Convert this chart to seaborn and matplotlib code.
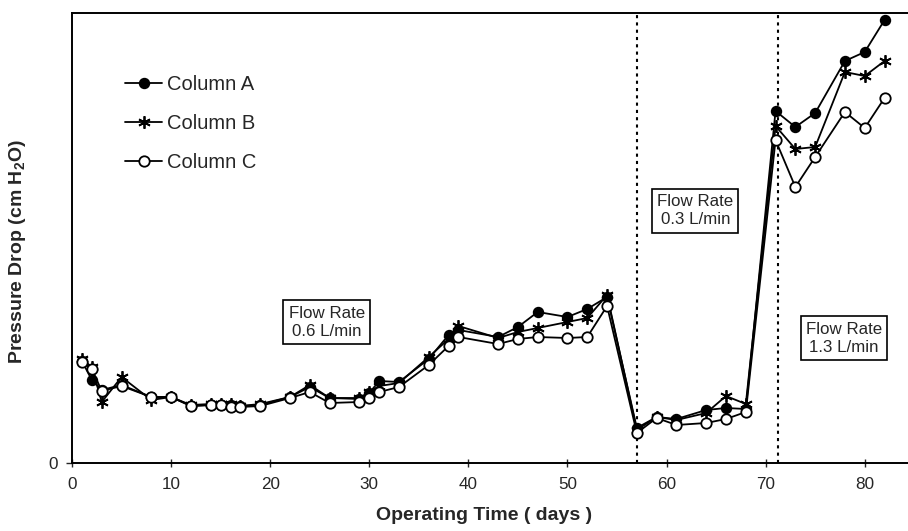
import matplotlib
matplotlib.use("Agg")
import matplotlib.pyplot as plt
import seaborn as sns

# operating days sampled (shared by all three columns)
days = [1, 2, 3, 5, 8, 10, 12, 14, 15, 16, 17, 19, 22, 24, 26, 29, 30, 31, 33, 36,
        38, 39, 43, 45, 47, 50, 52, 54, 57, 59, 61, 64, 66, 68, 71, 73, 75, 78, 80, 82]

# pressure drop, cm H2O
col_a = [10.2, 8.3, 7.3, 7.8, 6.6, 6.6, 5.7, 5.8, 5.8, 5.8, 5.7, 5.8, 6.6, 7.6, 6.5, 6.4, 7.0, 8.2, 8.1, 10.4,
         12.8, 13.3, 12.6, 13.6, 15.1, 14.6, 15.4, 16.6, 3.5, 4.6, 4.4, 5.3, 5.5, 5.4, 35.2, 33.6, 35.0, 40.2, 41.1, 44.3]
col_b = [10.4, 9.6, 6.1, 8.6, 6.3, 6.6, 5.8, 5.9, 5.9, 5.9, 5.7, 5.9, 6.6, 7.8, 6.5, 6.5, 7.1, 7.7, 8.0, 10.6,
         12.4, 13.7, 12.5, 13.1, 13.5, 14.1, 14.5, 16.8, 3.3, 4.6, 4.3, 5.0, 6.7, 5.9, 33.7, 31.4, 31.6, 39.1, 38.7, 40.2]
col_c = [10.1, 9.4, 7.2, 7.7, 6.6, 6.6, 5.7, 5.8, 5.8, 5.6, 5.6, 5.7, 6.5, 7.1, 6.0, 6.1, 6.5, 7.1, 7.6, 9.8,
         11.7, 12.6, 11.9, 12.4, 12.6, 12.5, 12.6, 15.7, 3.0, 4.5, 3.8, 4.0, 4.4, 5.1, 32.3, 27.6, 30.6, 35.1, 33.5, 36.5]

# flow rate changes and the boxed notes
change_days = [57, 71.2]
notes = ["Flow Rate\n0.6 L/min", "Flow Rate\n0.3 L/min", "Flow Rate\n1.3 L/min"]
note_pos = [(25.7, 14.1), (62.9, 25.2), (77.9, 12.5)]

sns.set_style("ticks")
plt.rcParams["font.family"] = ["Liberation Sans", "DejaVu Sans"]
plt.rcParams["mathtext.default"] = "regular"

fig = plt.figure(figsize=(9.08, 5.31), dpi=100)
# the frame runs past the right edge of the picture
ax = fig.add_axes([72 / 908, 68 / 531, 872 / 908, 450 / 531])

sns.lineplot(x=days, y=col_a, ax=ax, color="black", lw=1.3, marker="o", markersize=7.2,
             markerfacecolor="black", markeredgecolor="black", markeredgewidth=1.0,
             estimator=None, sort=False, label="Column A", zorder=3)
sns.lineplot(x=days, y=col_b, ax=ax, color="black", lw=1.3, marker=(6, 2, 0), markersize=9,
             markerfacecolor="black", markeredgecolor="black", markeredgewidth=1.3,
             estimator=None, sort=False, label="Column B", zorder=4)
sns.lineplot(x=days, y=col_c, ax=ax, color="black", lw=1.3, marker="o", markersize=7.5,
             markerfacecolor="white", markeredgecolor="black", markeredgewidth=1.3,
             estimator=None, sort=False, label="Column C", zorder=5)

for d in change_days:
    ax.axvline(d, color="black", lw=1.5, ls=(0, (1.5, 2)), zorder=2)

for txt, (x, y) in zip(notes, note_pos):
    ax.text(x, y, txt, ha="center", va="center", fontsize=12.2, linespacing=1.25,
            bbox=dict(boxstyle="square,pad=0.3", fc="white", ec="black", lw=1.2), zorder=6)

ax.set_xlim(0, 88)
ax.set_ylim(0, 45)
ax.set_xticks(range(0, 90, 10))
ax.set_yticks([0])
ax.tick_params(axis="x", direction="inout", length=6, width=1, labelsize=12.3, pad=7)
ax.tick_params(axis="y", direction="out", length=4, width=1, labelsize=12.3, pad=6)

for side in ["left", "top", "bottom"]:
    ax.spines[side].set_visible(True)
    ax.spines[side].set_linewidth(1.4)
    ax.spines[side].set_color("black")
ax.spines["right"].set_visible(False)

ax.set_xlabel("Operating Time ( days )", fontsize=14, fontweight="bold")
ax.xaxis.set_label_coords(0.473, -0.097)
ax.set_ylabel("Pressure Drop (cm H$_2$O)", fontsize=14, fontweight="bold")
ax.yaxis.set_label_coords(-0.051, 0.47)

ax.legend(loc="upper left", bbox_to_anchor=(0.061, 0.862), frameon=False, fontsize=14.5,
          handlelength=1.85, handletextpad=0.25, labelspacing=1.0, borderpad=0, borderaxespad=0)

fig.savefig("out.png", dpi=100)
